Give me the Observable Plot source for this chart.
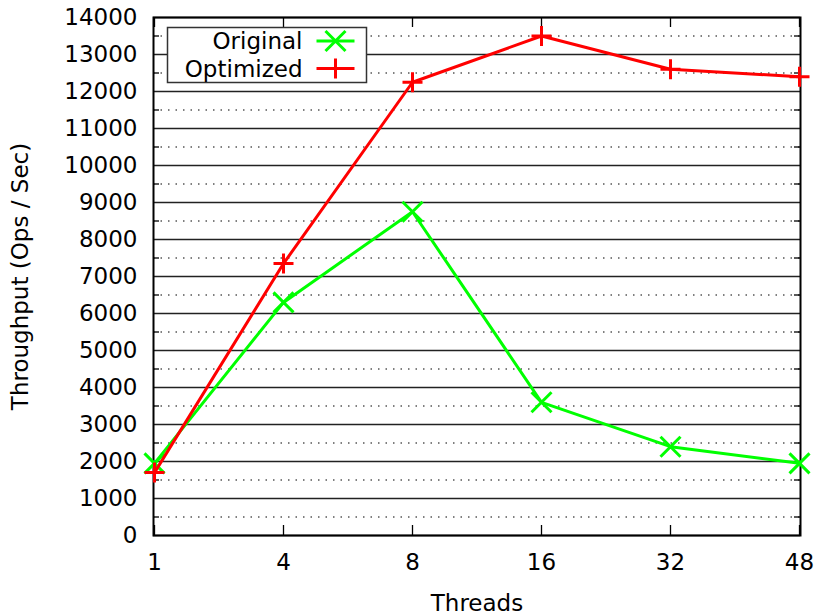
<!DOCTYPE html>
<html><head><meta charset="utf-8">
<script src="https://cdn.jsdelivr.net/npm/d3@7"></script>
<script src="https://cdn.jsdelivr.net/npm/@observablehq/plot@0.6"></script>
<style>
body{margin:0;background:#fff;}
#chart{width:816px;height:614px;}
</style></head><body><div id="chart"></div>
<script>
const threads = ["1", "4", "8", "16", "32", "48"];
const original = [1950, 6300, 8750, 3600, 2400, 1950];
const optimized = [1700, 7350, 12250, 13500, 12600, 12400];
const seriesNames = ["Original", "Optimized"];
const seriesColors = ["#00ff00", "#ff0000"];
const yMajorTicks = d3.range(0, 14001, 1000);
const yMinorTicks = d3.range(500, 14000, 1000);
const xLabel = "Threads";
const yLabel = "Throughput (Ops / Sec)";

const W = 816, H = 614;
const mL = 153, mR = 16, mT = 17, mB = 79;
const fw = W - mL - mR, fh = H - mT - mB;
const FONT = "DejaVu Sans";
const FS = 23;
const MR = 10; // marker half-size

const seriesValues = [original, optimized];
const series = seriesNames.map((name, k) =>
  threads.map((t, i) => ({threads: t, value: seriesValues[k][i], series: name})));

const timesSym = {draw(ctx, size) { const r = Math.sqrt(size / Math.PI);
  ctx.moveTo(-r, -r); ctx.lineTo(r, r); ctx.moveTo(-r, r); ctx.lineTo(r, -r); }};
const plusSym = {draw(ctx, size) { const r = Math.sqrt(size / Math.PI);
  ctx.moveTo(-r, 0); ctx.lineTo(r, 0); ctx.moveTo(0, -r); ctx.lineTo(0, r); }};
const symbols = [timesSym, plusSym];

const marks = [
  Plot.ruleY(yMinorTicks, {stroke: "#000", strokeWidth: 1, strokeDasharray: "1.5,6"}),
  Plot.ruleY(yMajorTicks, {stroke: "#222", strokeWidth: 1.3}),
  Plot.ruleY(yMinorTicks, {stroke: "#000", strokeWidth: 1.3, insetRight: fw - 6}),
  Plot.ruleY(yMinorTicks, {stroke: "#000", strokeWidth: 1.3, insetLeft: fw - 6}),
  Plot.ruleX(threads, {x: d => d, stroke: "#000", strokeWidth: 1.3, insetTop: fh - 10}),
  Plot.ruleX(threads, {x: d => d, stroke: "#000", strokeWidth: 1.3, insetBottom: fh - 10}),
  Plot.axisY(yMajorTicks, {tickSize: 0, tickPadding: 16, fontSize: FS, label: null, tickFormat: d => String(d)}),
  Plot.axisX(threads, {tickSize: 0, tickPadding: 18, fontSize: FS, label: null}),
  Plot.frame({stroke: "#000", strokeWidth: 2}),
  Plot.text([xLabel], {frameAnchor: "bottom", dy: 75, lineAnchor: "bottom", textAnchor: "middle", fontSize: FS, fill: "#000"}),
  Plot.text([yLabel], {frameAnchor: "left", dx: -126, rotate: -90, lineAnchor: "bottom", textAnchor: "middle", fontSize: FS, fill: "#000"})
];
series.forEach((s, k) => {
  marks.push(Plot.line(s, {x: "threads", y: "value", stroke: seriesColors[k], strokeWidth: 3}));
  marks.push(Plot.dot(s, {x: "threads", y: "value", stroke: seriesColors[k], strokeWidth: 3, symbol: symbols[k], r: MR}));
});

const plot = Plot.plot({
  width: W, height: H,
  marginTop: mT, marginBottom: mB, marginLeft: mL, marginRight: mR,
  style: {fontFamily: FONT, fontSize: FS + "px", color: "#000", background: "#fff", overflow: "visible"},
  x: {type: "point", domain: threads, padding: 0, label: null},
  y: {domain: [0, 14000], label: null},
  marks
});

// Legend (gnuplot-style key box inside the plot)
const svg = d3.select(plot);
const lg = svg.append("g").attr("font-family", FONT).attr("font-size", FS);
const bx = mL + 14.5, by = mT + 10.5, bw = 199, bh = 55;
lg.append("rect").attr("x", bx).attr("y", by).attr("width", bw).attr("height", bh)
  .attr("fill", "#fff").attr("stroke", "#333").attr("stroke-width", 1.5);
seriesNames.forEach((name, k) => {
  const cy = by + 13.5 + k * 27.5;
  lg.append("text").attr("x", bx + 135).attr("y", cy).attr("dy", "0.36em")
    .attr("text-anchor", "end").attr("fill", "#000").text(name);
  const cx = bx + 168;
  lg.append("line").attr("x1", cx - 19).attr("x2", cx + 19).attr("y1", cy).attr("y2", cy)
    .attr("stroke", seriesColors[k]).attr("stroke-width", 3);
  const p = d3.path();
  symbols[k].draw(p, Math.PI * MR * MR);
  lg.append("path").attr("d", p.toString()).attr("transform", `translate(${cx},${cy})`)
    .attr("fill", "none").attr("stroke", seriesColors[k]).attr("stroke-width", 3);
});

document.getElementById("chart").appendChild(plot);
</script>
</body></html>
